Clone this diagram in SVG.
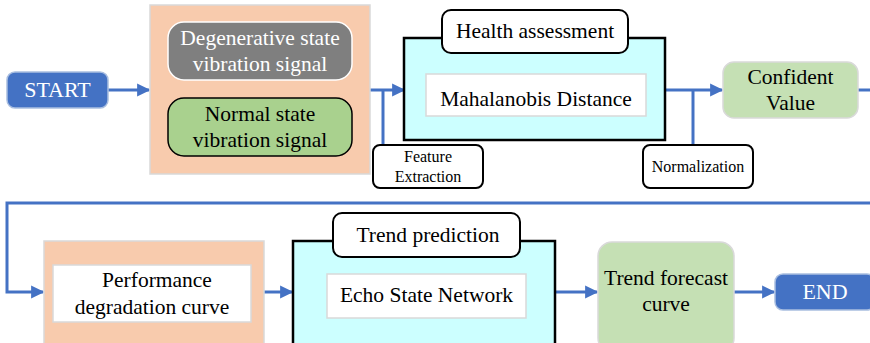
<svg xmlns="http://www.w3.org/2000/svg" width="870" height="343" viewBox="0 0 870 343" font-family="'Liberation Serif', 'Times New Roman', 'DejaVu Serif', serif">
  <defs>
    <style>
      text { font-family: 'Liberation Serif', 'Times New Roman', 'DejaVu Serif', serif; text-anchor: middle; fill: #000; }
      .t20 { font-size: 21.5px; }
      .t13 { font-size: 16px; }
      .w { fill: #fff; }
      .peach { fill: #F8CBAD; stroke: #D9D9D9; stroke-width: 1.5; }
      .cyan { fill: #CCFFFF; stroke: #000; stroke-width: 2.5; }
      .inner { fill: #fff; stroke: #D9D9D9; stroke-width: 1.5; }
      .tag { fill: #fff; stroke: #000; stroke-width: 2; }
      .green { fill: #C5E0B4; stroke: #D9D9D9; stroke-width: 1.5; }
      .blue { fill: #4472C4; stroke: #A9BEE0; stroke-width: 1.5; }
      .link { fill: none; stroke: #4472C4; stroke-width: 3; }
    </style>
    <marker id="arrow" viewBox="0 0 10 10" refX="9" refY="5" markerWidth="4.4" markerHeight="4.4" orient="auto" markerUnits="strokeWidth">
      <path d="M0,0 L10,5 L0,10 z" fill="#4472C4"/>
    </marker>
  </defs>

  <!-- connectors -->
  <g id="connectors">
    <path class="link" d="M108,90 H149" marker-end="url(#arrow)"/>
    <path class="link" d="M370,90 H404" marker-end="url(#arrow)"/>
    <path class="link" d="M383,90 V145"/>
    <path class="link" d="M665,90 H722" marker-end="url(#arrow)"/>
    <path class="link" d="M693,90 V145"/>
    <path class="link" d="M858,90 H870"/>
    <path class="link" d="M870,203 H7 V292 H43" marker-end="url(#arrow)"/>
    <path class="link" d="M264,292 H292" marker-end="url(#arrow)"/>
    <path class="link" d="M555,292 H597" marker-end="url(#arrow)"/>
    <path class="link" d="M734,292 H774" marker-end="url(#arrow)"/>
  </g>

  <g id="start">
    <rect class="blue" x="7" y="72" width="101" height="36" rx="8"/>
    <text class="t20 w" x="57.5" y="97" style="font-size:22px">START</text>
  </g>

  <g id="signals">
    <rect class="peach" x="150" y="5" width="220" height="169"/>
    <rect x="168" y="22" width="184" height="58" rx="16" fill="#7F7F7F" stroke="#fff" stroke-width="1.5"/>
    <text class="t20 w" x="260" y="45">Degenerative state</text>
    <text class="t20 w" x="260" y="71">vibration signal</text>
    <rect x="168" y="98" width="184" height="58" rx="16" fill="#A9D18E" stroke="#000" stroke-width="1.5"/>
    <text class="t20" x="260" y="121">Normal state</text>
    <text class="t20" x="260" y="147">vibration signal</text>
  </g>

  <g id="feature-extraction">
    <rect class="tag" x="373" y="145" width="110" height="43" rx="7"/>
    <text class="t13" x="428" y="162">Feature</text>
    <text class="t13" x="428" y="182">Extraction</text>
  </g>

  <g id="health-assessment">
    <rect class="cyan" x="404" y="38" width="261" height="102"/>
    <rect class="inner" x="426" y="74" width="220" height="42"/>
    <text class="t20" x="536" y="106">Mahalanobis Distance</text>
    <rect class="tag" x="442" y="10" width="186" height="43" rx="9"/>
    <text class="t20" x="535" y="37.5">Health assessment</text>
  </g>

  <g id="normalization">
    <rect class="tag" x="643" y="145" width="110" height="43" rx="7"/>
    <text class="t13" x="698" y="172">Normalization</text>
  </g>

  <g id="confident-value">
    <rect class="green" x="723" y="62" width="135" height="56" rx="11"/>
    <text class="t20" x="790.5" y="83.5">Confident</text>
    <text class="t20" x="790.5" y="109.5">Value</text>
  </g>

  <g id="performance-curve">
    <rect class="peach" x="44" y="241" width="220" height="110"/>
    <rect class="inner" x="53" y="265" width="198" height="57"/>
    <text class="t20" x="157" y="287">Performance</text>
    <text class="t20" x="152" y="313.5">degradation curve</text>
  </g>

  <g id="trend-prediction">
    <rect class="cyan" x="293" y="241" width="262" height="110"/>
    <rect class="inner" x="327" y="274" width="199" height="44"/>
    <text class="t20" x="426.5" y="302">Echo State Network</text>
    <rect class="tag" x="333" y="213" width="187" height="44" rx="9"/>
    <text class="t20" x="428" y="242">Trend prediction</text>
  </g>

  <g id="trend-forecast">
    <rect class="green" x="598" y="242" width="136" height="110" rx="14"/>
    <text class="t20" x="666" y="285">Trend forecast</text>
    <text class="t20" x="666" y="311">curve</text>
  </g>

  <g id="end">
    <rect class="blue" x="775" y="274" width="100" height="36" rx="8"/>
    <text class="t20 w" x="825" y="299" style="font-size:22px">END</text>
  </g>
</svg>
